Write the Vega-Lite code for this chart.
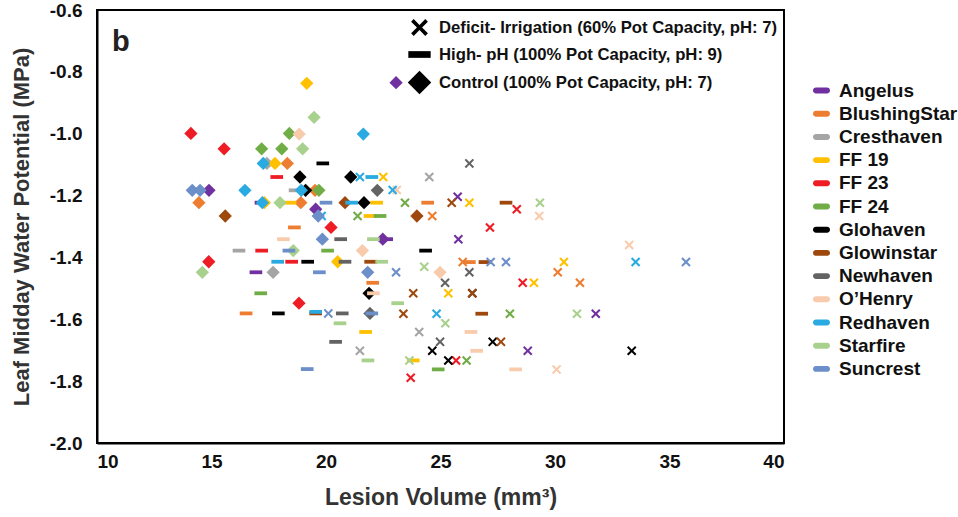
{
  "$schema": "https://vega.github.io/schema/vega-lite/v6.json",
  "width": 687,
  "height": 433,
  "autosize": "none",
  "padding": {"left": 97, "top": 10, "right": 174, "bottom": 74},
  "title": {"text": "b", "anchor": "start", "frame": "group", "fontSize": 29, "fontWeight": "bold", "font": "Liberation Sans", "color": "#222222", "offset": -56, "dx": 15},
  "config": {
    "font": "Liberation Sans",
    "view": {"stroke": "black", "strokeWidth": 2},
    "axis": {"grid": false, "ticks": false, "domainColor": "black", "domainWidth": 2, "labelFont": "Liberation Sans", "labelFontSize": 19, "labelFontWeight": "bold", "labelColor": "#111111", "titleFont": "Liberation Sans", "titleFontWeight": "bold", "titleColor": "#333333"},
    "legend": {"labelFont": "Liberation Sans", "labelFontWeight": "bold", "labelColor": "#111111"}
  },
  "data": {"values": [
    {"cultivar": "Angelus", "treatment": "C", "lesion": 23.06, "wp": -0.835},
    {"cultivar": "Angelus", "treatment": "C", "lesion": 14.89, "wp": -1.183},
    {"cultivar": "Angelus", "treatment": "C", "lesion": 19.55, "wp": -1.244},
    {"cultivar": "Angelus", "treatment": "C", "lesion": 22.48, "wp": -1.341},
    {"cultivar": "Angelus", "treatment": "H", "lesion": 17.16, "wp": -1.223},
    {"cultivar": "Angelus", "treatment": "H", "lesion": 16.94, "wp": -1.448},
    {"cultivar": "Angelus", "treatment": "H", "lesion": 22.65, "wp": -1.341},
    {"cultivar": "Angelus", "treatment": "D", "lesion": 25.75, "wp": -1.204},
    {"cultivar": "Angelus", "treatment": "D", "lesion": 25.78, "wp": -1.341},
    {"cultivar": "Angelus", "treatment": "D", "lesion": 31.78, "wp": -1.582},
    {"cultivar": "Angelus", "treatment": "D", "lesion": 28.81, "wp": -1.702},
    {"cultivar": "BlushingStar", "treatment": "C", "lesion": 18.31, "wp": -1.096},
    {"cultivar": "BlushingStar", "treatment": "C", "lesion": 14.45, "wp": -1.223},
    {"cultivar": "BlushingStar", "treatment": "C", "lesion": 18.9, "wp": -1.223},
    {"cultivar": "BlushingStar", "treatment": "C", "lesion": 19.52, "wp": -1.183},
    {"cultivar": "BlushingStar", "treatment": "H", "lesion": 18.62, "wp": -1.303},
    {"cultivar": "BlushingStar", "treatment": "H", "lesion": 22.04, "wp": -1.482},
    {"cultivar": "BlushingStar", "treatment": "H", "lesion": 16.51, "wp": -1.581},
    {"cultivar": "BlushingStar", "treatment": "H", "lesion": 24.44, "wp": -1.223},
    {"cultivar": "BlushingStar", "treatment": "H", "lesion": 26.26, "wp": -1.415},
    {"cultivar": "BlushingStar", "treatment": "D", "lesion": 24.64, "wp": -1.266},
    {"cultivar": "BlushingStar", "treatment": "D", "lesion": 25.97, "wp": -1.415},
    {"cultivar": "BlushingStar", "treatment": "D", "lesion": 30.12, "wp": -1.448},
    {"cultivar": "BlushingStar", "treatment": "D", "lesion": 31.09, "wp": -1.482},
    {"cultivar": "Cresthaven", "treatment": "C", "lesion": 17.42, "wp": -1.096},
    {"cultivar": "Cresthaven", "treatment": "C", "lesion": 17.69, "wp": -1.448},
    {"cultivar": "Cresthaven", "treatment": "H", "lesion": 18.65, "wp": -1.183},
    {"cultivar": "Cresthaven", "treatment": "H", "lesion": 16.2, "wp": -1.378},
    {"cultivar": "Cresthaven", "treatment": "D", "lesion": 24.51, "wp": -1.14},
    {"cultivar": "Cresthaven", "treatment": "D", "lesion": 21.48, "wp": -1.702},
    {"cultivar": "Cresthaven", "treatment": "D", "lesion": 24.07, "wp": -1.641},
    {"cultivar": "FF 19", "treatment": "C", "lesion": 19.16, "wp": -0.837},
    {"cultivar": "FF 19", "treatment": "C", "lesion": 17.77, "wp": -1.096},
    {"cultivar": "FF 19", "treatment": "C", "lesion": 17.31, "wp": -1.223},
    {"cultivar": "FF 19", "treatment": "C", "lesion": 20.51, "wp": -1.414},
    {"cultivar": "FF 19", "treatment": "H", "lesion": 18.43, "wp": -1.223},
    {"cultivar": "FF 19", "treatment": "H", "lesion": 22.21, "wp": -1.223},
    {"cultivar": "FF 19", "treatment": "H", "lesion": 21.92, "wp": -1.266},
    {"cultivar": "FF 19", "treatment": "H", "lesion": 21.73, "wp": -1.641},
    {"cultivar": "FF 19", "treatment": "H", "lesion": 23.81, "wp": -1.733},
    {"cultivar": "FF 19", "treatment": "D", "lesion": 22.5, "wp": -1.14},
    {"cultivar": "FF 19", "treatment": "D", "lesion": 26.26, "wp": -1.223},
    {"cultivar": "FF 19", "treatment": "D", "lesion": 30.39, "wp": -1.415},
    {"cultivar": "FF 19", "treatment": "D", "lesion": 29.08, "wp": -1.482},
    {"cultivar": "FF 19", "treatment": "D", "lesion": 25.34, "wp": -1.516},
    {"cultivar": "FF 23", "treatment": "C", "lesion": 14.1, "wp": -0.999},
    {"cultivar": "FF 23", "treatment": "C", "lesion": 15.55, "wp": -1.049},
    {"cultivar": "FF 23", "treatment": "C", "lesion": 20.22, "wp": -1.303},
    {"cultivar": "FF 23", "treatment": "C", "lesion": 14.88, "wp": -1.414},
    {"cultivar": "FF 23", "treatment": "C", "lesion": 18.82, "wp": -1.548},
    {"cultivar": "FF 23", "treatment": "H", "lesion": 17.85, "wp": -1.14},
    {"cultivar": "FF 23", "treatment": "H", "lesion": 17.19, "wp": -1.378},
    {"cultivar": "FF 23", "treatment": "H", "lesion": 18.5, "wp": -1.414},
    {"cultivar": "FF 23", "treatment": "D", "lesion": 28.33, "wp": -1.244},
    {"cultivar": "FF 23", "treatment": "D", "lesion": 27.16, "wp": -1.303},
    {"cultivar": "FF 23", "treatment": "D", "lesion": 28.59, "wp": -1.482},
    {"cultivar": "FF 23", "treatment": "D", "lesion": 25.68, "wp": -1.733},
    {"cultivar": "FF 23", "treatment": "D", "lesion": 23.7, "wp": -1.789},
    {"cultivar": "FF 24", "treatment": "C", "lesion": 18.4, "wp": -0.999},
    {"cultivar": "FF 24", "treatment": "C", "lesion": 17.19, "wp": -1.049},
    {"cultivar": "FF 24", "treatment": "C", "lesion": 18.07, "wp": -1.049},
    {"cultivar": "FF 24", "treatment": "C", "lesion": 19.69, "wp": -1.183},
    {"cultivar": "FF 24", "treatment": "H", "lesion": 22.36, "wp": -1.266},
    {"cultivar": "FF 24", "treatment": "H", "lesion": 20.07, "wp": -1.378},
    {"cultivar": "FF 24", "treatment": "H", "lesion": 17.15, "wp": -1.516},
    {"cultivar": "FF 24", "treatment": "H", "lesion": 24.9, "wp": -1.762},
    {"cultivar": "FF 24", "treatment": "D", "lesion": 21.38, "wp": -1.266},
    {"cultivar": "FF 24", "treatment": "D", "lesion": 23.45, "wp": -1.223},
    {"cultivar": "FF 24", "treatment": "D", "lesion": 28.03, "wp": -1.582},
    {"cultivar": "FF 24", "treatment": "D", "lesion": 26.14, "wp": -1.733},
    {"cultivar": "Glohaven", "treatment": "C", "lesion": 18.86, "wp": -1.14},
    {"cultivar": "Glohaven", "treatment": "C", "lesion": 21.08, "wp": -1.14},
    {"cultivar": "Glohaven", "treatment": "C", "lesion": 19.11, "wp": -1.183},
    {"cultivar": "Glohaven", "treatment": "C", "lesion": 21.66, "wp": -1.223},
    {"cultivar": "Glohaven", "treatment": "C", "lesion": 21.88, "wp": -1.516},
    {"cultivar": "Glohaven", "treatment": "H", "lesion": 19.86, "wp": -1.096},
    {"cultivar": "Glohaven", "treatment": "H", "lesion": 19.2, "wp": -1.414},
    {"cultivar": "Glohaven", "treatment": "H", "lesion": 17.92, "wp": -1.581},
    {"cultivar": "Glohaven", "treatment": "H", "lesion": 24.35, "wp": -1.378},
    {"cultivar": "Glohaven", "treatment": "D", "lesion": 26.39, "wp": -1.516},
    {"cultivar": "Glohaven", "treatment": "D", "lesion": 27.28, "wp": -1.673},
    {"cultivar": "Glohaven", "treatment": "D", "lesion": 24.64, "wp": -1.702},
    {"cultivar": "Glohaven", "treatment": "D", "lesion": 25.34, "wp": -1.733},
    {"cultivar": "Glohaven", "treatment": "D", "lesion": 33.35, "wp": -1.702},
    {"cultivar": "Glowinstar", "treatment": "C", "lesion": 15.6, "wp": -1.266},
    {"cultivar": "Glowinstar", "treatment": "C", "lesion": 20.83, "wp": -1.223},
    {"cultivar": "Glowinstar", "treatment": "C", "lesion": 23.97, "wp": -1.266},
    {"cultivar": "Glowinstar", "treatment": "H", "lesion": 21.95, "wp": -1.414},
    {"cultivar": "Glowinstar", "treatment": "H", "lesion": 19.55, "wp": -1.581},
    {"cultivar": "Glowinstar", "treatment": "H", "lesion": 27.86, "wp": -1.223},
    {"cultivar": "Glowinstar", "treatment": "H", "lesion": 26.94, "wp": -1.415},
    {"cultivar": "Glowinstar", "treatment": "H", "lesion": 26.8, "wp": -1.582},
    {"cultivar": "Glowinstar", "treatment": "D", "lesion": 25.49, "wp": -1.223},
    {"cultivar": "Glowinstar", "treatment": "D", "lesion": 23.81, "wp": -1.516},
    {"cultivar": "Glowinstar", "treatment": "D", "lesion": 26.39, "wp": -1.516},
    {"cultivar": "Glowinstar", "treatment": "D", "lesion": 23.38, "wp": -1.582},
    {"cultivar": "Glowinstar", "treatment": "D", "lesion": 27.64, "wp": -1.673},
    {"cultivar": "Newhaven", "treatment": "C", "lesion": 22.24, "wp": -1.183},
    {"cultivar": "Newhaven", "treatment": "C", "lesion": 21.92, "wp": -1.581},
    {"cultivar": "Newhaven", "treatment": "H", "lesion": 20.64, "wp": -1.341},
    {"cultivar": "Newhaven", "treatment": "H", "lesion": 20.83, "wp": -1.414},
    {"cultivar": "Newhaven", "treatment": "H", "lesion": 20.71, "wp": -1.581},
    {"cultivar": "Newhaven", "treatment": "H", "lesion": 20.42, "wp": -1.673},
    {"cultivar": "Newhaven", "treatment": "D", "lesion": 26.26, "wp": -1.096},
    {"cultivar": "Newhaven", "treatment": "D", "lesion": 26.26, "wp": -1.448},
    {"cultivar": "Newhaven", "treatment": "D", "lesion": 25.2, "wp": -1.482},
    {"cultivar": "Newhaven", "treatment": "D", "lesion": 24.98, "wp": -1.673},
    {"cultivar": "O’Henry", "treatment": "C", "lesion": 18.83, "wp": -1.001},
    {"cultivar": "O’Henry", "treatment": "C", "lesion": 21.59, "wp": -1.378},
    {"cultivar": "O’Henry", "treatment": "C", "lesion": 24.98, "wp": -1.448},
    {"cultivar": "O’Henry", "treatment": "H", "lesion": 18.14, "wp": -1.341},
    {"cultivar": "O’Henry", "treatment": "H", "lesion": 22.07, "wp": -1.516},
    {"cultivar": "O’Henry", "treatment": "H", "lesion": 26.33, "wp": -1.641},
    {"cultivar": "O’Henry", "treatment": "H", "lesion": 26.58, "wp": -1.702},
    {"cultivar": "O’Henry", "treatment": "H", "lesion": 28.28, "wp": -1.762},
    {"cultivar": "O’Henry", "treatment": "D", "lesion": 23.09, "wp": -1.182},
    {"cultivar": "O’Henry", "treatment": "D", "lesion": 29.31, "wp": -1.266},
    {"cultivar": "O’Henry", "treatment": "D", "lesion": 33.24, "wp": -1.36},
    {"cultivar": "O’Henry", "treatment": "D", "lesion": 30.07, "wp": -1.762},
    {"cultivar": "Redhaven", "treatment": "C", "lesion": 21.63, "wp": -1.001},
    {"cultivar": "Redhaven", "treatment": "C", "lesion": 17.26, "wp": -1.096},
    {"cultivar": "Redhaven", "treatment": "C", "lesion": 16.46, "wp": -1.183},
    {"cultivar": "Redhaven", "treatment": "C", "lesion": 18.92, "wp": -1.183},
    {"cultivar": "Redhaven", "treatment": "C", "lesion": 17.22, "wp": -1.223},
    {"cultivar": "Redhaven", "treatment": "H", "lesion": 22.0, "wp": -1.14},
    {"cultivar": "Redhaven", "treatment": "H", "lesion": 21.12, "wp": -1.223},
    {"cultivar": "Redhaven", "treatment": "H", "lesion": 17.89, "wp": -1.414},
    {"cultivar": "Redhaven", "treatment": "H", "lesion": 19.55, "wp": -1.576},
    {"cultivar": "Redhaven", "treatment": "D", "lesion": 21.48, "wp": -1.14},
    {"cultivar": "Redhaven", "treatment": "D", "lesion": 22.91, "wp": -1.182},
    {"cultivar": "Redhaven", "treatment": "D", "lesion": 19.81, "wp": -1.266},
    {"cultivar": "Redhaven", "treatment": "D", "lesion": 24.83, "wp": -1.582},
    {"cultivar": "Redhaven", "treatment": "D", "lesion": 33.52, "wp": -1.415},
    {"cultivar": "Starfire", "treatment": "C", "lesion": 19.48, "wp": -0.947},
    {"cultivar": "Starfire", "treatment": "C", "lesion": 18.98, "wp": -1.049},
    {"cultivar": "Starfire", "treatment": "C", "lesion": 17.99, "wp": -1.223},
    {"cultivar": "Starfire", "treatment": "C", "lesion": 18.57, "wp": -1.378},
    {"cultivar": "Starfire", "treatment": "C", "lesion": 14.6, "wp": -1.448},
    {"cultivar": "Starfire", "treatment": "H", "lesion": 22.07, "wp": -1.341},
    {"cultivar": "Starfire", "treatment": "H", "lesion": 22.43, "wp": -1.414},
    {"cultivar": "Starfire", "treatment": "H", "lesion": 23.13, "wp": -1.548},
    {"cultivar": "Starfire", "treatment": "H", "lesion": 20.61, "wp": -1.613},
    {"cultivar": "Starfire", "treatment": "H", "lesion": 21.83, "wp": -1.733},
    {"cultivar": "Starfire", "treatment": "D", "lesion": 24.29, "wp": -1.43},
    {"cultivar": "Starfire", "treatment": "D", "lesion": 25.21, "wp": -1.613},
    {"cultivar": "Starfire", "treatment": "D", "lesion": 23.64, "wp": -1.733},
    {"cultivar": "Starfire", "treatment": "D", "lesion": 29.34, "wp": -1.223},
    {"cultivar": "Starfire", "treatment": "D", "lesion": 30.96, "wp": -1.582},
    {"cultivar": "Suncrest", "treatment": "C", "lesion": 14.16, "wp": -1.183},
    {"cultivar": "Suncrest", "treatment": "C", "lesion": 14.5, "wp": -1.183},
    {"cultivar": "Suncrest", "treatment": "C", "lesion": 19.66, "wp": -1.266},
    {"cultivar": "Suncrest", "treatment": "C", "lesion": 19.84, "wp": -1.341},
    {"cultivar": "Suncrest", "treatment": "C", "lesion": 21.82, "wp": -1.448},
    {"cultivar": "Suncrest", "treatment": "H", "lesion": 20.0, "wp": -1.223},
    {"cultivar": "Suncrest", "treatment": "H", "lesion": 18.38, "wp": -1.378},
    {"cultivar": "Suncrest", "treatment": "H", "lesion": 19.71, "wp": -1.448},
    {"cultivar": "Suncrest", "treatment": "H", "lesion": 22.0, "wp": -1.581},
    {"cultivar": "Suncrest", "treatment": "H", "lesion": 19.18, "wp": -1.761},
    {"cultivar": "Suncrest", "treatment": "D", "lesion": 23.06, "wp": -1.448},
    {"cultivar": "Suncrest", "treatment": "D", "lesion": 20.1, "wp": -1.581},
    {"cultivar": "Suncrest", "treatment": "D", "lesion": 27.19, "wp": -1.415},
    {"cultivar": "Suncrest", "treatment": "D", "lesion": 27.86, "wp": -1.415},
    {"cultivar": "Suncrest", "treatment": "D", "lesion": 35.72, "wp": -1.415}
  ]},
  "mark": {"type": "point", "filled": true, "opacity": 1, "size": 160, "color": "black", "strokeWidth": 0},
  "encoding": {
    "x": {"field": "lesion", "type": "quantitative", "scale": {"domain": [10, 40], "nice": false, "zero": false}, "axis": {"values": [10, 15, 20, 25, 30, 35, 40], "labelPadding": 9, "title": "Lesion Volume (mm³)", "titleFontSize": 23, "titlePadding": 15}},
    "y": {"field": "wp", "type": "quantitative", "scale": {"domain": [-2.0, -0.6], "nice": false, "zero": false}, "axis": {"values": [-2.0, -1.8, -1.6, -1.4, -1.2, -1.0, -0.8, -0.6], "labelExpr": "replace(format(datum.value, '.1f'), '−', '-')", "labelPadding": 15, "title": "Leaf Midday Water Potential (MPa)", "titleFontSize": 22, "titleBaseline": "bottom", "titleX": -64}},
    "color": {"field": "cultivar", "type": "nominal",
      "scale": {"domain": ["Angelus", "BlushingStar", "Cresthaven", "FF 19", "FF 23", "FF 24", "Glohaven", "Glowinstar", "Newhaven", "O’Henry", "Redhaven", "Starfire", "Suncrest"],
        "range": ["#7030A0", "#ED7D31", "#A5A5A5", "#FFC000", "#EE1C25", "#70AD47", "#000000", "#9E480E", "#636363", "#F8CBAD", "#29ABE2", "#A9D18E", "#6C8EC9"]},
      "legend": {"orient": "none", "legendX": 715, "legendY": 71, "title": null, "symbolType": "M-0.65,-0.35L0.65,-0.35A0.35,0.35 0 0 1 0.65,0.35L-0.65,0.35A0.35,0.35 0 0 1 -0.65,-0.35Z", "symbolSize": 289, "labelFontSize": 19, "rowPadding": 3.2, "labelOffset": 8, "labelLimit": 140, "symbolStrokeWidth": 0}},
    "shape": {"field": "treatment", "type": "nominal",
      "scale": {"domain": ["D", "H", "C"], "range": ["M-0.75,-0.52L-0.52,-0.75L0,-0.23L0.52,-0.75L0.75,-0.52L0.23,0L0.75,0.52L0.52,0.75L0,0.23L-0.52,0.75L-0.75,0.52L-0.23,0Z", "M-1,-0.3L1,-0.3L1,0.3L-1,0.3Z", "M0,-1.05L1.05,0L0,1.05L-1.05,0Z"]},
      "legend": {"orient": "top-right", "offset": 6, "title": null, "symbolSize": 500, "symbolFillColor": "black", "symbolStrokeWidth": 0, "labelFontSize": 16.7, "rowPadding": 6, "labelOffset": 8, "labelLimit": 420,
        "labelExpr": "datum.label == 'D' ? 'Deficit- Irrigation (60% Pot Capacity, pH: 7)' : datum.label == 'H' ? 'High- pH (100% Pot Capacity, pH: 9)' : 'Control (100% Pot Capacity, pH: 7)'"}}
  }
}
